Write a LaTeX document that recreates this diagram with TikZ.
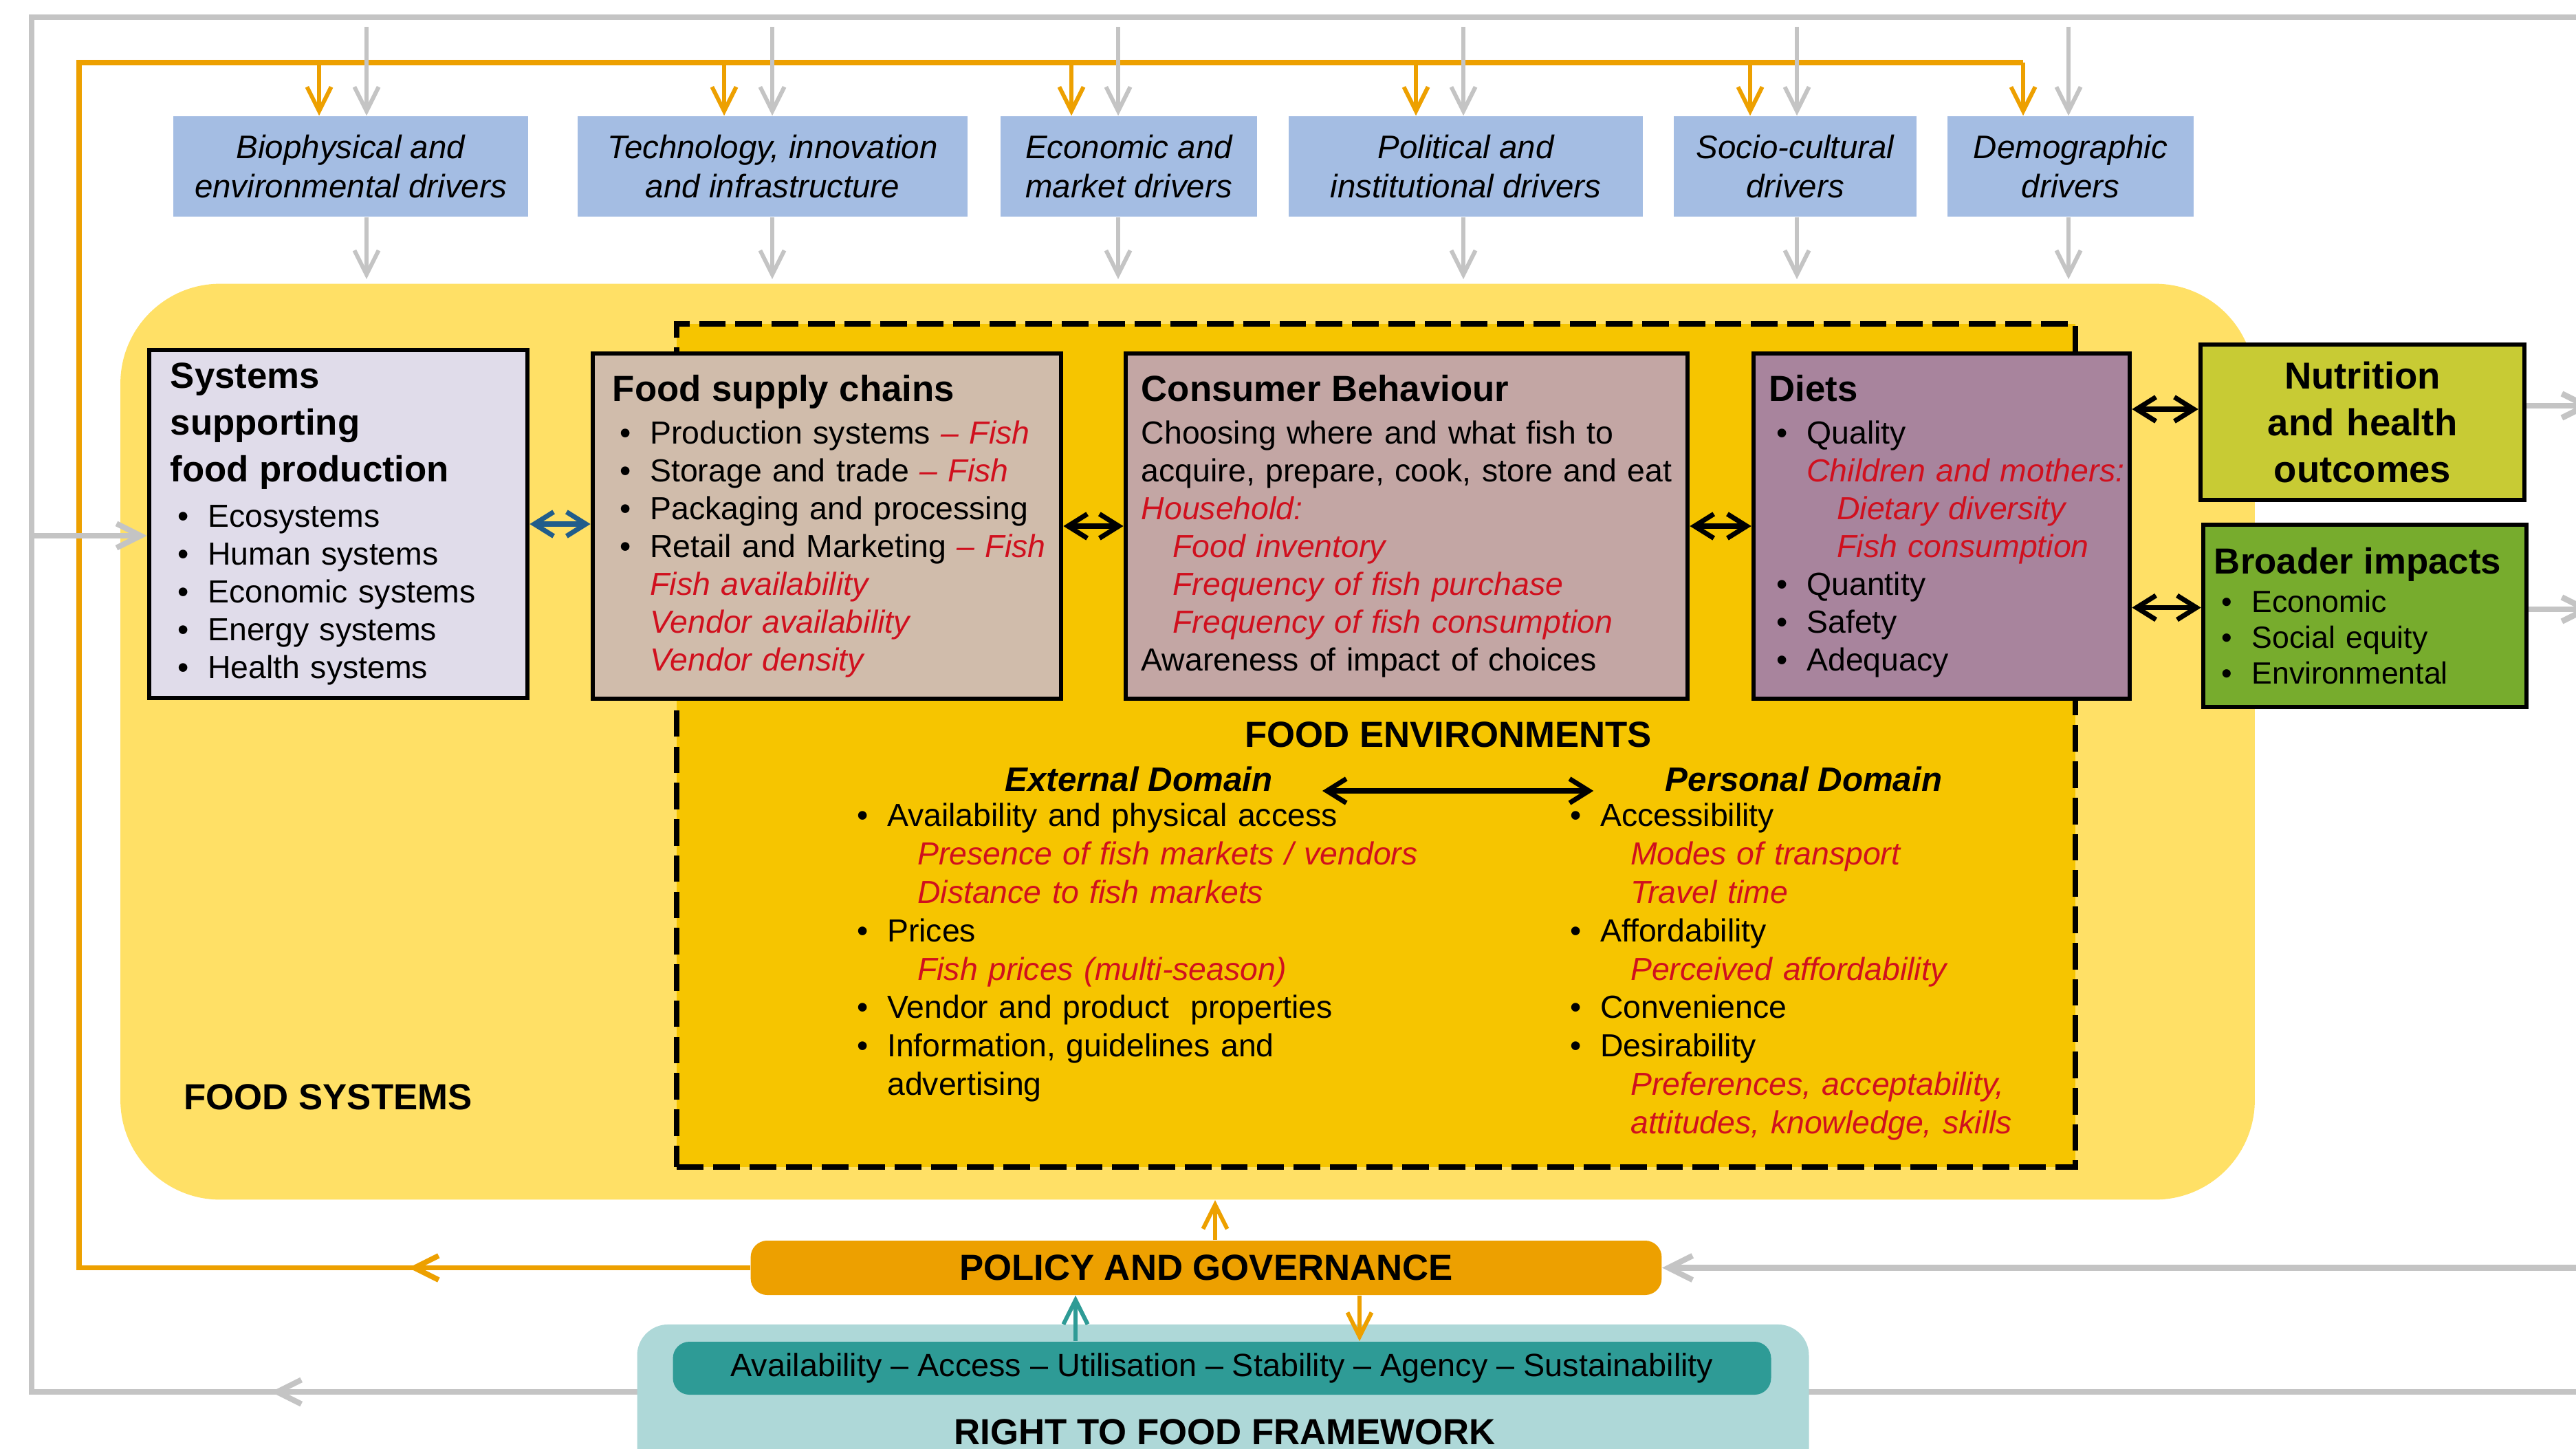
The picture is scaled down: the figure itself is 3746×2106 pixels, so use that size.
\documentclass[tikz,border=0pt]{standalone}
\usepackage{fontspec}
\setmainfont{Liberation Sans}
\usetikzlibrary{arrows.meta}
\definecolor{drvblue}{HTML}{A4BDE3}
\definecolor{lineg}{HTML}{C4C4C4}
\definecolor{orng}{HTML}{EDA000}
\definecolor{fsyel}{HTML}{FFE066}
\definecolor{feyel}{HTML}{F6C500}
\definecolor{sysfill}{HTML}{E0DCEA}
\definecolor{supfill}{HTML}{D0BCAB}
\definecolor{confill}{HTML}{C3A6A4}
\definecolor{dietfill}{HTML}{A8849D}
\definecolor{nutfill}{HTML}{C8CB34}
\definecolor{brfill}{HTML}{77AC2D}
\definecolor{teallt}{HTML}{AED8D8}
\definecolor{tealdk}{HTML}{2E9B96}
\definecolor{fishred}{HTML}{D0101E}
\definecolor{arrblue}{HTML}{215D8B}
\newcommand{\txtbody}{\fontsize{13.2}{15.65}\selectfont}
\newcommand{\txthead}{\fontsize{15}{19.35}\selectfont\bfseries}
\newcommand{\fishtxt}[1]{\textcolor{fishred}{\itshape #1}}
\newcommand{\itembul}[1]{\mbox{\makebox[15.5pt][l]{\hspace{3pt}\textbullet}#1}}
\newcommand{\itemcont}[1]{\mbox{\hspace{15.5pt}#1}}
\newcommand{\subfish}[1]{\mbox{\hspace{28pt}\fishtxt{#1}}}
\begin{document}
\begin{tikzpicture}[x=0.01cm,y=-0.01cm,
    every node/.style={inner sep=0pt},
    drv/.style={fill=drvblue,minimum height=1.46cm,align=center,font=\fontsize{13.5}{16.3}\selectfont\itshape},
    cbox/.style={draw=black,line width=1.8pt,align=left,font=\txtbody,minimum height=5.02cm},
    gline/.style={draw=lineg,line width=2.3pt},
    oline/.style={draw=orng,line width=2.2pt},
    headtip/.style={-{Straight Barb[length=10pt,width=10pt]}},
    garr/.style={draw=lineg,line width=1.7pt,headtip},
    oarr/.style={draw=orng,line width=1.7pt,headtip},
    tarr/.style={draw=tealdk,line width=1.7pt,headtip},
    darr/.style={line width=2pt,{Straight Barb[length=8pt,width=10pt]}-{Straight Barb[length=8pt,width=10pt]}},
    pillbar/.style={rounded corners=0.24cm}]
  \useasboundingbox (0,0) rectangle (3746,2106);
  \fill[white] (0,0) rectangle (3746,2106);
  \clip (0,0) rectangle (3746,2106);

  \coordinate (gTR) at (3770,25);
  \coordinate (gTL) at (46,25);
  \coordinate (gBL) at (46,2024);
  \coordinate (gBR) at (3770,2024);
  \draw[gline] (gTR) -- (gTL) -- (gBL) -- (gBR);
  \coordinate (gm) at (394,2024);
  \draw[garr,line width=2.3pt] ([shift={(40,0)}]gm) -- (gm);

  \node[fill=fsyel,rounded corners=1.45cm,minimum width=31.02cm,minimum height=13.31cm] (fsys) at (1727,1078.5) {};
  \node[fill=feyel,draw=black,line width=2.3pt,dash pattern=on 11pt off 4pt,minimum width=20.32cm,minimum height=12.26cm] (fenv) at (2001,1084) {};
  \node[fill=teallt,rounded corners=0.45cm,minimum width=17.03cm,minimum height=3.0cm] (rtf) at (1778.5,2076) {};

  \node[drv,minimum width=5.16cm] (d1) at (510,242) {Biophysical and\\environmental drivers};
  \node[drv,minimum width=5.67cm] (d2) at (1123.5,242) {Technology, innovation\\and infrastructure};
  \node[drv,minimum width=3.73cm] (d3) at (1641.5,242) {Economic and\\market drivers};
  \node[drv,minimum width=5.15cm] (d4) at (2131.5,242) {Political and\\institutional drivers};
  \node[drv,minimum width=3.53cm] (d5) at (2610.5,242) {Socio-cultural\\drivers};
  \node[drv,minimum width=3.58cm] (d6) at (3011,242) {Demographic\\drivers};

  \node[cbox,fill=sysfill,text width=4.88cm,inner xsep=0.31cm,minimum height=5.06cm] (sys) at (492,762)
    {{\txthead Systems\\supporting\\food production\par}\vspace{3pt}
     \itembul{Ecosystems}\\\itembul{Human systems}\\\itembul{Economic systems}\\\itembul{Energy systems}\\\itembul{Health systems}};
  \node[cbox,fill=supfill,text width=6.23cm,inner xsep=0.29cm] (sup) at (1202.5,765)
    {{\txthead Food supply chains\par}\vspace{2pt}
     \itembul{Production systems \fishtxt{– Fish}}\\
     \itembul{Storage and trade \fishtxt{– Fish}}\\
     \itembul{Packaging and processing}\\
     \itembul{Retail and Marketing \fishtxt{– Fish}}\\
     \itemcont{\fishtxt{Fish availability}}\\
     \itemcont{\fishtxt{Vendor availability}}\\
     \itemcont{\fishtxt{Vendor density}}};
  \node[cbox,fill=confill,text width=7.71cm,inner xsep=0.23cm] (con) at (2045.5,765)
    {{\txthead Consumer Behaviour\par}\vspace{2pt}
     \mbox{Choosing where and what fish to}\\
     \mbox{acquire, prepare, cook, store and eat}\\
     \fishtxt{Household:}\\
     \mbox{\hspace{13pt}\fishtxt{Food inventory}}\\
     \mbox{\hspace{13pt}\fishtxt{Frequency of fish purchase}}\\
     \mbox{\hspace{13pt}\fishtxt{Frequency of fish consumption}}\\
     \mbox{Awareness of impact of choices}};
  \node[cbox,fill=dietfill,text width=5.01cm,inner xsep=0.23cm] (diet) at (2823.5,765)
    {{\txthead Diets\par}\vspace{2pt}
     \itembul{Quality}\\
     \itemcont{\fishtxt{Children and mothers:}}\\
     \subfish{Dietary diversity}\\
     \subfish{Fish consumption}\\
     \itembul{Quantity}\\\itembul{Safety}\\\itembul{Adequacy}};
  \node[cbox,fill=nutfill,text width=4.71cm,align=center,minimum height=2.26cm,font=\fontsize{15.5}{19.35}\selectfont\bfseries] (nut) at (3435.5,614)
    {Nutrition\\and health\\outcomes};
  \node[cbox,fill=brfill,text width=4.38cm,inner xsep=0.16cm,minimum height=2.65cm] (br) at (3439,895.5)
    {{\txthead\mbox{Broader impacts}\par}\vspace{1pt}
     {\fontsize{12.7}{14.8}\selectfont\itembul{Economic}\\\itembul{Social equity}\\\itembul{Environmental}\par}};

  \node[font=\fontsize{15}{18}\selectfont\bfseries] (fetitle) at (2106,1068) {FOOD ENVIRONMENTS};
  \node[font=\fontsize{14}{17}\selectfont\bfseries\itshape] (ext) at (1656,1133) {External Domain};
  \node[font=\fontsize{14}{17}\selectfont\bfseries\itshape] (pers) at (2623,1133) {Personal Domain};
  \node[anchor=north west,text width=9cm,align=left,font=\fontsize{13.2}{15.9}\selectfont] (fel) at (1235,1167)
    {\itembul{Availability and physical access}\\
     \subfish{Presence of fish markets / vendors}\\
     \subfish{Distance to fish markets}\\
     \itembul{Prices}\\
     \subfish{Fish prices (multi-season)}\\
     \itembul{Vendor and product\ \ properties}\\
     \itembul{Information, guidelines and}\\
     \itemcont{advertising}};
  \node[anchor=north west,text width=8cm,align=left,font=\fontsize{13.2}{15.9}\selectfont] (fer) at (2272,1167)
    {\itembul{Accessibility}\\
     \subfish{Modes of transport}\\
     \subfish{Travel time}\\
     \itembul{Affordability}\\
     \subfish{Perceived affordability}\\
     \itembul{Convenience}\\
     \itembul{Desirability}\\
     \subfish{Preferences, acceptability,}\\
     \subfish{attitudes, knowledge, skills}};
  \node[font=\fontsize{15}{18}\selectfont\bfseries] (fslabel) at (477,1595) {FOOD SYSTEMS};

  \node[pillbar,fill=orng,minimum width=13.24cm,minimum height=0.79cm,font=\fontsize{15}{18}\selectfont\bfseries] (pol) at (1754,1843.5) {POLICY AND GOVERNANCE};
  \node[pillbar,fill=tealdk,minimum width=15.96cm,minimum height=0.77cm,font=\fontsize{13.3}{16}\selectfont] (avail) at (1777,1989.5)
    {Availability – Access – Utilisation – Stability – Agency – Sustainability};
  \node[font=\fontsize{15}{18}\selectfont\bfseries] (rtflabel) at (1781,2082) {RIGHT TO FOOD FRAMEWORK};

  \coordinate (oTL) at (115,91);
  \coordinate (oTR) at (2942,91);
  \draw[oline] (pol.west) -| (oTL) -- (oTR);
  \coordinate (om) at (594,1843.5);
  \draw[oarr,line width=2.2pt] ([shift={(40,0)}]om) -- (om);

  \foreach \i/\ox/\gx in {1/464/533,2/1053/1123,3/1558/1626,4/2059/2128,5/2545/2613,6/2942/3008} {
    \coordinate (o\i) at (\ox,91);
    \coordinate (g\i) at (\gx,39);
    \draw[oarr] (o\i) -- (o\i |- d\i.north);
    \draw[garr] (g\i) -- (g\i |- d\i.north);
    \draw[garr,shorten >=1.7pt] (g\i |- d\i.south) -- (g\i |- fsys.north);
  }

  \begin{scope}
    \coordinate (gs) at (46,779);
    \draw[garr,line width=2.3pt] (gs) -- (gs -| sys.west);
    \draw[darr,draw=arrblue] (sys.east) -- (sys.east -| sup.west);
    \draw[darr] (sup.east) -- (con.west);
    \draw[darr] (con.east) -- (diet.west);
    \coordinate (na) at ([shift={(0,-19)}]nut.west);
    \draw[darr] (na -| diet.east) -- (na);
    \coordinate (ba) at ([shift={(0,-12)}]br.west);
    \draw[darr] (ba -| diet.east) -- (ba);
    \coordinate (nr) at (3770,590);
    \draw[garr,line width=2.4pt] (nr -| nut.east) -- (nr);
    \coordinate (brr) at (3770,886);
    \draw[garr,line width=2.4pt] (brr -| br.east) -- (brr);
    \draw[darr] ([shift={(72,17)}]ext.east) -- ([shift={(-104,17)}]pers.west);
    \coordinate (pu) at ([shift={(13,0)}]pol.north);
    \draw[oarr] (pu) -- (pu |- fsys.south);
    \coordinate (pd) at ([shift={(223,0)}]pol.south);
    \draw[oarr] (pd) -- (pd |- avail.north);
    \coordinate (tu) at ([shift={(-190,0)}]pol.south);
    \draw[tarr] (tu |- avail.north) -- (tu);
    \coordinate (gp) at (3770,1843.5);
    \draw[garr,line width=2.3pt] (gp) -- (pol.east);
  \end{scope}
\end{tikzpicture}
\end{document}
